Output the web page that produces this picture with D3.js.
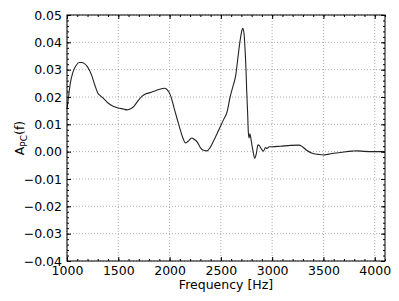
<!DOCTYPE html>
<html><head><meta charset="utf-8">
<script src="https://cdn.jsdelivr.net/npm/d3@7"></script>
<style>body{margin:0;background:#fff}svg{display:block}text{font-family:"DejaVu Sans",sans-serif}</style>
</head><body><svg id="c" width="399" height="301"></svg>
<script>
const frequencies = [1000,1015,1030,1060,1090,1120,1143,1170,1200,1240,1270,1300,1330,1360,1400,1450,1500,1550,1585,1620,1650,1690,1730,1760,1810,1870,1930,1955,1980,2010,2040,2070,2100,2130,2155,2180,2215,2240,2270,2300,2330,2365,2395,2430,2480,2530,2560,2590,2615,2645,2665,2685,2700,2713,2725,2735,2745,2752,2760,2768,2775,2782,2790,2798,2812,2830,2845,2862,2875,2895,2915,2935,2950,2970,3000,3080,3180,3260,3295,3340,3390,3450,3500,3550,3600,3700,3780,3830,3900,4000,4096];
const values = [0.0155,0.0200,0.0245,0.0293,0.0316,0.0326,0.0326,0.0322,0.0310,0.0280,0.0245,0.0215,0.0203,0.0193,0.0178,0.0166,0.0160,0.0156,0.0153,0.0157,0.0165,0.0185,0.0202,0.0210,0.0216,0.0224,0.0231,0.0232,0.0225,0.0205,0.0165,0.0125,0.0085,0.0050,0.0032,0.0038,0.0050,0.0045,0.0035,0.0015,0.0005,0.0003,0.0015,0.0040,0.0080,0.0120,0.0145,0.0200,0.0235,0.0280,0.0340,0.0400,0.0435,0.0451,0.0435,0.0380,0.0300,0.0220,0.0150,0.0070,0.0050,0.0065,0.0055,0.0035,0.0005,-0.0024,-0.0008,0.0025,0.0022,0.0010,0.0002,0.0015,0.0012,0.0018,0.0018,0.0020,0.0023,0.0024,0.0018,0.0004,-0.0006,-0.0010,-0.0012,-0.0009,-0.0006,-0.0001,0.0002,0.0003,0.0001,0.0000,0.0000];
const xTicks = [1000,1500,2000,2500,3000,3500,4000];
const yTicks = [-0.04,-0.03,-0.02,-0.01,0.00,0.01,0.02,0.03,0.04,0.05];
const xLabel = "Frequency [Hz]";

const svg = d3.select("#c");
const L=67,R=385,T=15,B=261;
const x = d3.scaleLinear().domain([1000,4100]).range([L,R]);
const y = d3.scaleLinear().domain([-0.04,0.05]).range([B,T]);
const fmtY = v => (v<0?"\u2212":"") + Math.abs(v).toFixed(2);

// grid
const g = svg.append("g");
xTicks.forEach(t=>g.append("line").attr("x1",x(t)).attr("x2",x(t)).attr("y1",T).attr("y2",B)
  .attr("stroke","#888").attr("stroke-width",0.7).attr("stroke-dasharray","1,2"));
yTicks.forEach(t=>g.append("line").attr("y1",y(t)).attr("y2",y(t)).attr("x1",L).attr("x2",R)
  .attr("stroke","#888").attr("stroke-width",0.7).attr("stroke-dasharray","1,2"));

// line
const line = d3.line().x((d,i)=>x(frequencies[i])).y(d=>y(d)).curve(d3.curveMonotoneX);
svg.append("path").datum(values).attr("d",line).attr("fill","none").attr("stroke","#222").attr("stroke-width",1.1);

// axes (inward ticks, all sides)
const xMinor = d3.range(1000,4101,100);
const yMinor = d3.range(-40,51,2).map(v=>v/1000);
function ax(gen, tr){ const a=svg.append("g").attr("transform",tr).call(gen);
  a.select(".domain").remove(); a.selectAll("line").attr("stroke","#000"); return a; }
ax(d3.axisBottom(x).tickValues(xMinor).tickSize(-2).tickFormat(""),`translate(0,${B})`);
ax(d3.axisTop(x).tickValues(xMinor).tickSize(-2).tickFormat(""),`translate(0,${T})`);
ax(d3.axisLeft(y).tickValues(yMinor).tickSize(-2).tickFormat(""),`translate(${L},0)`);
ax(d3.axisRight(y).tickValues(yMinor).tickSize(-2).tickFormat(""),`translate(${R},0)`);
const xb = ax(d3.axisBottom(x).tickValues(xTicks).tickSize(-4).tickPadding(5).tickFormat(d3.format("d")),`translate(0,${B})`);
ax(d3.axisTop(x).tickValues(xTicks).tickSize(-4).tickFormat(""),`translate(0,${T})`);
const yl = ax(d3.axisLeft(y).tickValues(yTicks).tickSize(-4).tickPadding(5).tickFormat(fmtY),`translate(${L},0)`);
ax(d3.axisRight(y).tickValues(yTicks).tickSize(-4).tickFormat(""),`translate(${R},0)`);
xb.selectAll("text").attr("font-size",12.5).attr("fill","#000").attr("font-family","DejaVu Sans");
yl.selectAll("text").attr("font-size",12.5).attr("fill","#000").attr("font-family","DejaVu Sans");
svg.append("rect").attr("x",L).attr("y",T).attr("width",R-L).attr("height",B-T).attr("fill","none").attr("stroke","#000").attr("stroke-width",1);

// labels
svg.append("text").attr("x",(L+R)/2).attr("y",289).attr("text-anchor","middle").attr("font-size",12.5).text(xLabel);
const yt = svg.append("text").attr("transform",`translate(24,${(T+B)/2}) rotate(-90)`).attr("text-anchor","middle").attr("font-size",12.5);
yt.append("tspan").text("A");
yt.append("tspan").attr("font-size",9).attr("dy",3).text("PC");
yt.append("tspan").attr("dy",-3).text("(f)");
</script></body></html>
